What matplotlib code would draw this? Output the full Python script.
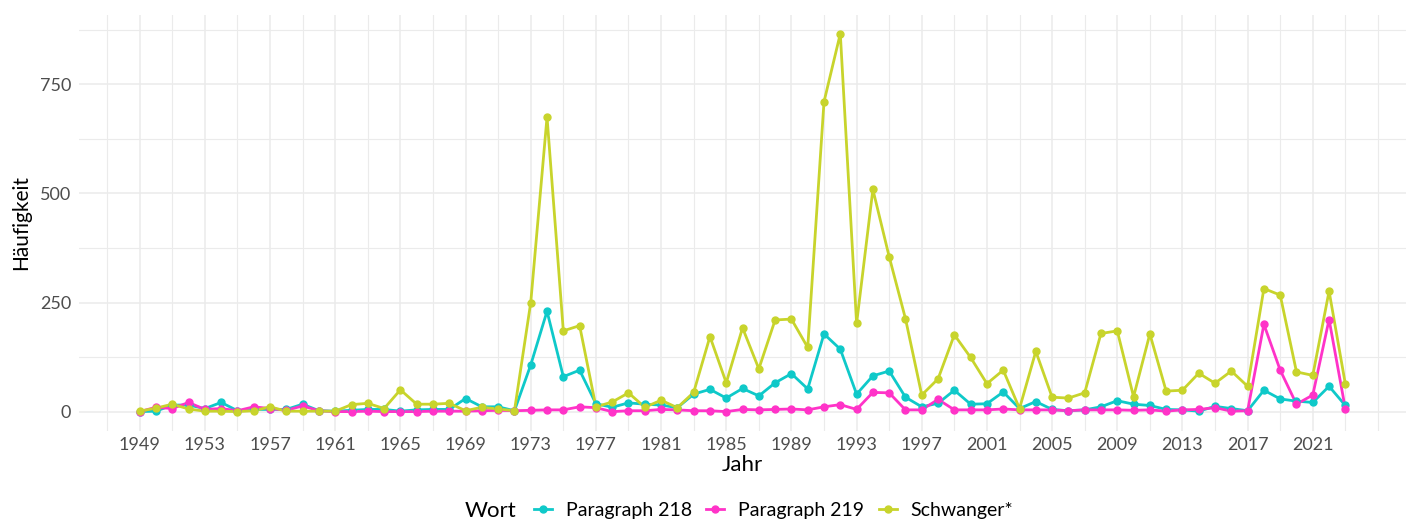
import matplotlib
matplotlib.use("Agg")
import matplotlib.pyplot as plt
from matplotlib.lines import Line2D
import numpy as np

years = list(range(1949, 2024))

paragraph_218 = [0, 1, 15, 15, 7, 21, 2, 5, 5, 5, 17, 2,
                 1, 3, 5, 5, 1, 4, 5, 5, 30, 11, 11, 2,
                 107, 230, 80, 95, 18, 10, 20, 17, 15, 9,
                 40, 51, 31, 53, 36, 66, 87, 52, 178, 143, 40, 82,
                 93, 33, 11, 19, 49, 17, 18, 45, 7, 23,
                 5, 2, 4, 11, 25, 17, 14, 5, 4, 1, 12, 7,
                 2, 49, 29, 24, 21, 58, 14]

paragraph_219 = [0, 10, 7, 21, 5, 7, 2, 11, 7, 3, 13, 2,
                 0, 0, 1, 0, 0, 0, 1, 1, 1, 2, 3, 2,
                 3, 4, 4, 11, 9, 0, 2, 2, 5, 4,
                 2, 2, 0, 5, 4, 5, 6, 4, 11, 16, 5, 44,
                 43, 4, 4, 28, 4, 4, 4, 6, 4, 4,
                 4, 2, 4, 4, 4, 3, 4, 1, 4, 5, 9, 1,
                 2, 200, 95, 17, 38, 211, 6]

schwanger = [1, 8, 17, 6, 1, 1, 0, 2, 11, 1, 1, 1,
             1, 16, 19, 7, 50, 17, 17, 19, 2, 10, 6, 2,
             250, 675, 185, 197, 11, 22, 43, 10, 26, 9,
             44, 172, 66, 192, 98, 210, 212, 147, 710, 866, 202, 509,
             355, 213, 38, 75, 176, 124, 64, 95, 7, 138,
             33, 31, 43, 179, 185, 34, 178, 47, 49, 88, 65, 93,
             58, 282, 267, 91, 83, 276, 63]

labels = ["Paragraph 218", "Paragraph 219", "Schwanger*"]
colors = ["#0fc9c9", "#ff33c8", "#c8d42c"]
series = [paragraph_218, paragraph_219, schwanger]

plt.rcParams['font.family'] = ['Lato', 'DejaVu Sans']

fig = plt.figure(figsize=(14.21, 5.21), dpi=100)
ax = fig.add_axes([0.0559, 0.1737, 0.9333, 0.7979])

# lines first, then points (like ggplot)
for vals, c in zip(series, colors):
    ax.plot(years, vals, color=c, lw=2.0, zorder=3)
for vals, c in zip(series, colors):
    ax.plot(years, vals, 'o', color=c, ms=5, zorder=4)

ymax = max(schwanger)
ax.set_xlim(1949 - 0.05 * 74, 2023 + 0.05 * 74)
ax.set_ylim(-0.05 * ymax, ymax * 1.05)

major_x = list(range(1949, 2022, 4))
minor_x = [y for y in range(1947, 2026, 2) if y not in major_x]
ax.set_xticks(major_x)
ax.set_xticks(minor_x, minor=True)
ax.set_yticks([0, 250, 500, 750])
ax.set_yticks([125, 375, 625, 875], minor=True)

ax.grid(which='major', color='#ebebeb', lw=1.1)
ax.grid(which='minor', color='#ebebeb', lw=0.8)
ax.set_axisbelow(True)
for s in ax.spines.values():
    s.set_visible(False)
ax.tick_params(which='both', length=0)
ax.tick_params(axis='both', labelsize=13, labelcolor='#4d4d4d')
ax.tick_params(axis='x', pad=5)
ax.tick_params(axis='y', pad=6)

ax.set_xlabel("Jahr", fontsize=16, labelpad=1)
ax.set_ylabel("Häufigkeit", fontsize=15, labelpad=6)

handles = [Line2D([0], [0], color=c, lw=2.0, marker='o', ms=5) for c in colors]
fig.text(0.3272, 0.019, "Wort", fontsize=16, va='center')
fig.legend(handles, labels, loc='center left', bbox_to_anchor=(0.3758, 0.021),
           ncol=3, frameon=False, fontsize=14, handlelength=0.93,
           handletextpad=0.7, columnspacing=0.75, borderpad=0,
           borderaxespad=0)

fig.savefig("out.png", dpi=100)
